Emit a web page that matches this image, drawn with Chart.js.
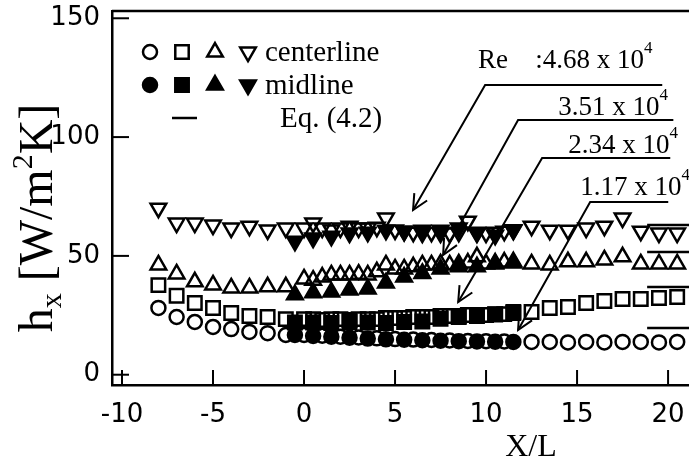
<!DOCTYPE html>
<html>
<head>
<meta charset="utf-8">
<title>Local heat transfer coefficient</title>
<script src="https://cdn.jsdelivr.net/npm/chart.js@4.4.0/dist/chart.umd.min.js"></script>
<style>
  html, body { margin: 0; padding: 0; background: #fff; overflow: hidden; }
  #hxChart { display: block; width: 689px; height: 461px; }
</style>
</head>
<body>
<canvas id="hxChart" width="689" height="461"></canvas>
<script>
// Axis ticks
const xTickValues = [-10, -5, 0, 5, 10, 15, 20];
const yTickValues = [0, 50, 100, 150];

// Re = 1.17 x 10^4 (circles)
const circleOpenX = [-8, -7, -6, -5, -4, -3, -2, -1, 0, 1, 2, 3, 4, 5, 6, 7, 8, 9, 10, 11,
    12.5, 13.5, 14.5, 15.5, 16.5, 17.5, 18.5, 19.5, 20.5];
const circleOpenY = [28.1, 24.3, 22.2, 20.1, 19.2, 18.0, 17.5, 16.7, 16.7, 16.4, 16.0, 15.7, 15.3, 15.0, 14.8, 14.6, 14.4, 14.2, 14.1, 14.0,
    13.8, 13.8, 13.6, 13.8, 13.6, 13.8, 13.8, 13.6, 13.8];
const circleFillX = [-0.5, 0.5, 1.5, 2.5, 3.5, 4.5, 5.5, 6.5, 7.5, 8.5, 9.5, 10.5, 11.5];
const circleFillY = [16.7, 16.3, 16.0, 15.6, 15.2, 14.9, 14.7, 14.5, 14.3, 14.1, 14.0, 13.9, 13.8];

// Re = 2.34 x 10^4 (squares)
const squareOpenX = [-8, -7, -6, -5, -4, -3, -2, -1,
    0, 0.5, 1, 1.5, 2, 2.5, 3, 3.5, 4, 4.5, 5, 5.5, 6, 6.5, 7, 7.5, 8, 8.5, 9, 9.5, 10, 10.5, 11, 11.5,
    12.5, 13.5, 14.5, 15.5, 16.5, 17.5, 18.5, 19.5, 20.5];
const squareOpenY = [37.7, 33.2, 30.2, 28.1, 26.0, 24.7, 24.3, 23.4,
    23.4, 23.4, 23.0, 23.4, 23.4, 23.0, 23.4, 23.4, 23.4, 23.9, 23.9, 23.9, 24.3, 24.3, 24.3, 24.7, 24.7, 24.7, 25.1, 25.1, 25.1, 25.5, 25.5, 26.0,
    26.4, 28.1, 28.5, 30.2, 31.0, 31.9, 31.9, 32.3, 32.7];
const squareFillX = [-0.5, 0.5, 1.5, 2.5, 3.5, 4.5, 5.5, 6.5, 7.5, 8.5, 9.5, 10.5, 11.5];
const squareFillY = [22.0, 22.0, 21.8, 22.2, 22.0, 21.8, 22.2, 22.4, 23.5, 24.3, 24.7, 25.3, 26.4];

// Re = 3.51 x 10^4 (triangles)
const triOpenX = [-8, -7, -6, -5, -4, -3, -2, -1,
    0, 0.5, 1, 1.5, 2, 2.5, 3, 3.5, 4, 4.5, 5, 5.5, 6, 6.5, 7, 7.5, 8, 8.5, 9, 9.5, 10, 10.5, 11, 11.5,
    12.5, 13.5, 14.5, 15.5, 16.5, 17.5, 18.5, 19.5, 20.5];
const triOpenY = [46.2, 42.4, 39.1, 37.8, 36.5, 36.5, 37.0, 37.0,
    40.3, 39.8, 41.1, 42.0, 42.0, 42.0, 42.3, 42.0, 43.3, 46.2, 44.5, 44.5, 45.4, 46.2, 46.2, 46.6, 46.2, 46.6, 47.0, 49.6, 46.6, 47.0, 47.4, 47.0,
    46.6, 46.2, 47.5, 47.5, 48.3, 49.6, 46.6, 46.6, 46.6];
const triFillX = [-0.5, 0.5, 1.5, 2.5, 3.5, 4.5, 5.5, 6.5, 7.5, 8.5, 9.5, 10.5, 11.5];
const triFillY = [33.6, 34.5, 34.8, 35.7, 36.1, 38.6, 41.1, 42.6, 44.5, 45.4, 45.4, 46.6, 47.5];

// Re = 4.68 x 10^4 (inverted triangles)
const invOpenX = [-8, -7, -6, -5, -4, -3, -2, -1,
    0, 0.5, 1, 1.5, 2, 2.5, 3, 3.5, 4, 4.5, 5, 5.5, 6, 6.5, 7, 7.5, 8, 8.5, 9, 9.5, 10, 10.5, 11, 11.5,
    12.5, 13.5, 14.5, 15.5, 16.5, 17.5, 18.5, 19.5, 20.5];
const invOpenY = [70.1, 63.8, 63.8, 63.0, 61.7, 62.5, 60.9, 61.7,
    61.7, 63.8, 61.7, 60.9, 61.7, 62.5, 61.7, 61.7, 62.1, 65.9, 60.9, 60.4, 60.0, 59.6, 60.0, 59.6, 59.6, 60.0, 64.6, 60.0, 59.6, 60.0, 60.4, 61.0,
    62.5, 60.8, 60.8, 61.7, 62.5, 65.9, 60.4, 59.6, 59.6];
const invFillX = [-0.5, 0.5, 1.5, 2.5, 3.5, 4.5, 5.5, 6.5, 7.5, 8.5, 9.5, 10.5, 11.5];
const invFillY = [56.2, 57.5, 58.3, 59.6, 60.0, 60.8, 60.4, 60.8, 60.8, 61.7, 59.6, 58.7, 60.8];

// Eq. (4.2), fully developed level for each Re
const eqX = [18.85, 21.2];
const eqLevels = [19.7, 36.9, 51.6, 63.0];

// Reynolds number callouts, highest first
const reValues = ['4.68', '3.51', '2.34', '1.17'];

const sansFont = "'DejaVu Sans', sans-serif";
const serifFont = "'Liberation Serif', 'Times New Roman', serif";

// callout geometry in data units: shelf start/end, arrow tip, text start
const reCallouts = [
    { sx: 9.95, ex: 19.68, sy: 121.9, tipX: 5.99, tipY: 69.3, tx: 12.7, ty: 129.1 },
    { sx: 11.76, ex: 20.29, sy: 107.2, tipX: 7.64, tipY: 50.4, tx: 13.96, ty: 109.3 },
    { sx: 13.08, ex: 20.12, sy: 91.2, tipX: 8.47, tipY: 30.6, tx: 14.51, ty: 93.3 },
    { sx: 15.72, ex: 20.01, sy: 72.7, tipX: 11.76, tipY: 18.8, tx: 15.17, ty: 75.6 }
];

const markerRadius = { circle: 7, rect: 9.5, triangle: 9 };

function toPoints(xs, ys) {
    return xs.map((x, i) => ({ x: x, y: ys[i] }));
}

function markerSet(label, xs, ys, style, filled, rotation) {
    return {
        label: label,
        data: toPoints(xs, ys),
        showLine: false,
        pointStyle: style,
        pointRotation: rotation || 0,
        pointRadius: markerRadius[style],
        pointHoverRadius: markerRadius[style],
        pointBorderWidth: 2.5,
        pointBorderColor: '#000',
        pointBackgroundColor: filled ? '#000' : 'rgba(0,0,0,0)'
    };
}

function eqSet(level) {
    return {
        label: 'Eq. (4.2)',
        data: toPoints(eqX, eqX.map(() => level)),
        showLine: true,
        borderColor: '#000',
        borderWidth: 2.5,
        pointRadius: 0
    };
}

// first dataset ends up on top, so midline (filled) comes first
const datasets = [
    markerSet('midline 1.17', circleFillX, circleFillY, 'circle', true),
    markerSet('midline 2.34', squareFillX, squareFillY, 'rect', true),
    markerSet('midline 3.51', triFillX, triFillY, 'triangle', true),
    markerSet('midline 4.68', invFillX, invFillY, 'triangle', true, 180),
    ...eqLevels.map(eqSet),
    markerSet('centerline 1.17', circleOpenX, circleOpenY, 'circle', false),
    markerSet('centerline 2.34', squareOpenX, squareOpenY, 'rect', false),
    markerSet('centerline 3.51', triOpenX, triOpenY, 'triangle', false),
    markerSet('centerline 4.68', invOpenX, invOpenY, 'triangle', false, 180)
];

// draws one legend marker the same way the points look
function legendMarker(ctx, x, y, style, filled, rotation) {
    const r = markerRadius[style];
    ctx.save();
    ctx.lineWidth = 2.5;
    ctx.strokeStyle = '#000';
    ctx.fillStyle = '#000';
    ctx.beginPath();
    if (style === 'circle') {
        ctx.arc(x, y, r, 0, Math.PI * 2);
    } else if (style === 'rect') {
        const s = r * Math.SQRT1_2;
        ctx.rect(x - s, y - s, 2 * s, 2 * s);
    } else {
        const flip = rotation ? -1 : 1;
        let a = 0;
        for (let k = 0; k < 3; k++) {
            const px = x + Math.sin(a) * r;
            const py = y - flip * Math.cos(a) * r;
            if (k === 0) ctx.moveTo(px, py); else ctx.lineTo(px, py);
            a += Math.PI * 2 / 3;
        }
        ctx.closePath();
    }
    if (filled) ctx.fill();
    ctx.stroke();
    ctx.restore();
}

// text with a raised or lowered small part, e.g. 10^4 or h_x
function drawRich(ctx, parts, x, y) {
    let cx = x;
    parts.forEach(p => {
        ctx.font = p.font;
        ctx.fillText(p.text, cx, y + (p.dy || 0));
        cx += ctx.measureText(p.text).width;
    });
    return cx;
}

function richWidth(ctx, parts) {
    let w = 0;
    parts.forEach(p => { ctx.font = p.font; w += ctx.measureText(p.text).width; });
    return w;
}

const decorations = {
    id: 'decorations',
    afterDraw(chart) {
        const ctx = chart.ctx;
        const area = chart.chartArea;
        const xs = chart.scales.x;
        const ys = chart.scales.y;

        ctx.save();
        ctx.strokeStyle = '#000';
        ctx.fillStyle = '#000';

        // top frame line
        ctx.lineWidth = 2.5;
        ctx.beginPath();
        ctx.moveTo(area.left, area.top);
        ctx.lineTo(chart.width, area.top);
        ctx.stroke();

        // inward ticks and x tick labels
        ctx.lineWidth = 2;
        ctx.font = '26px ' + sansFont;
        ctx.textAlign = 'center';
        ctx.textBaseline = 'alphabetic';
        xTickValues.forEach(v => {
            const px = xs.getPixelForValue(v);
            ctx.beginPath();
            ctx.moveTo(px, area.bottom);
            ctx.lineTo(px, area.bottom - 15);
            ctx.stroke();
            ctx.fillText(String(v), px, area.bottom + 37);
        });
        yTickValues.forEach(v => {
            const py = ys.getPixelForValue(v);
            ctx.beginPath();
            ctx.moveTo(area.left, py);
            ctx.lineTo(area.left + 17, py);
            ctx.stroke();
        });

        // Re callouts: shelf line, arrow and label
        ctx.lineWidth = 2;
        reCallouts.forEach((c, i) => {
            const sx = xs.getPixelForValue(c.sx);
            const ex = xs.getPixelForValue(c.ex);
            const sy = ys.getPixelForValue(c.sy);
            const tx = xs.getPixelForValue(c.tipX);
            const ty = ys.getPixelForValue(c.tipY);
            ctx.beginPath();
            ctx.moveTo(ex, sy);
            ctx.lineTo(sx, sy);
            ctx.lineTo(tx, ty);
            ctx.stroke();
            const ang = Math.atan2(ty - sy, tx - sx);
            const head = 17;
            ctx.beginPath();
            ctx.moveTo(tx - head * Math.cos(ang - 0.45), ty - head * Math.sin(ang - 0.45));
            ctx.lineTo(tx, ty);
            ctx.lineTo(tx - head * Math.cos(ang + 0.45), ty - head * Math.sin(ang + 0.45));
            ctx.stroke();

            const lx = xs.getPixelForValue(c.tx);
            const ly = ys.getPixelForValue(c.ty);
            ctx.textAlign = 'left';
            ctx.textBaseline = 'alphabetic';
            const main = (i === 0 ? ':' : '') + reValues[i] + ' x 10';
            drawRich(ctx, [
                { text: main, font: '27px ' + serifFont },
                { text: '4', font: '17px ' + serifFont, dy: -15 }
            ], lx, ly);
            if (i === 0) {
                ctx.font = '27px ' + serifFont;
                ctx.fillText('Re', xs.getPixelForValue(9.56), ly);
            }
        });

        // legend
        const rowY = [52, 85];
        const symX = [150, 182, 215, 248];
        const styles = [['circle', 0], ['rect', 0], ['triangle', 0], ['triangle', 180]];
        rowY.forEach((y, row) => {
            styles.forEach((s, k) => legendMarker(ctx, symX[k], y, s[0], row === 1, s[1]));
        });
        ctx.lineWidth = 2.5;
        ctx.beginPath();
        ctx.moveTo(172, 118);
        ctx.lineTo(197, 118);
        ctx.stroke();
        ctx.font = '29px ' + serifFont;
        ctx.textAlign = 'left';
        ctx.textBaseline = 'alphabetic';
        ctx.fillText('centerline', 265, 61);
        ctx.fillText('midline', 265, 94);
        ctx.fillText('Eq. (4.2)', 280, 127);

        // axis titles
        ctx.font = '32px ' + serifFont;
        ctx.textAlign = 'center';
        ctx.fillText('X/L', 531, 456);

        const yTitle = [
            { text: 'h', font: '48px ' + serifFont },
            { text: 'x', font: '30px ' + serifFont, dy: 9 },
            { text: ' [W/m', font: '48px ' + serifFont },
            { text: '2', font: '30px ' + serifFont, dy: -20 },
            { text: 'K]', font: '48px ' + serifFont }
        ];
        ctx.translate(52, 218);
        ctx.rotate(-Math.PI / 2);
        ctx.textAlign = 'left';
        drawRich(ctx, yTitle, -richWidth(ctx, yTitle) / 2, 0);
        ctx.restore();
    }
};

new Chart(document.getElementById('hxChart'), {
    type: 'scatter',
    data: { datasets: datasets },
    options: {
        responsive: false,
        animation: false,
        devicePixelRatio: 1,
        layout: { autoPadding: false, padding: { top: 11, left: 0, right: 0, bottom: 0 } },
        plugins: {
            legend: { display: false },
            tooltip: { enabled: false }
        },
        scales: {
            x: {
                type: 'linear',
                min: -10.55,
                max: 21.15,
                afterBuildTicks: s => { s.ticks = xTickValues.map(v => ({ value: v })); },
                afterFit: s => {
                    s.height = 76;
                    s.paddingLeft = 0;
                    s.paddingRight = 0;
                },
                // labels are drawn by the decorations plugin
                ticks: { display: false },
                grid: { drawOnChartArea: false, drawTicks: false },
                border: { display: true, color: '#000', width: 2.5 }
            },
            y: {
                type: 'linear',
                min: -4.33,
                max: 153.06,
                afterBuildTicks: s => { s.ticks = yTickValues.map(v => ({ value: v })); },
                afterFit: s => {
                    s.width = 112;
                    s.paddingTop = 0;
                    s.paddingBottom = 0;
                },
                ticks: {
                    color: '#000',
                    font: { family: sansFont, size: 26 },
                    padding: 12
                },
                grid: { drawOnChartArea: false, drawTicks: false },
                border: { display: true, color: '#000', width: 2.5 }
            }
        }
    },
    plugins: [decorations]
});
</script>
</body>
</html>
